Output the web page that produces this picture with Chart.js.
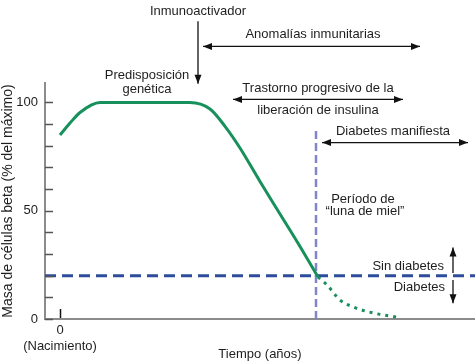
<!DOCTYPE html>
<html>
<head>
<meta charset="utf-8">
<script src="https://cdn.jsdelivr.net/npm/chart.js@4"></script>
<style>
  body { margin: 0; background: #fff; }
  canvas { display: block; }
</style>
</head>
<body>
<canvas id="chart" width="475" height="363"></canvas>
<script>
// time in arbitrary units (0 = birth), beta cell mass in % of maximum
const curveTime = [0, 2, 4, 8, 14, 20, 26, 30, 33, 36, 40, 44, 48, 51.6];
const curveMass = [85, 90.5, 95.4, 100, 100, 100, 100, 97, 89, 79, 63.5, 48.5, 33.5, 19.4];
// residual mass after onset (dotted part)
const tailTime = [51.6, 53.4, 56, 58.6, 62.6, 67.4];
const tailMass = [19.4, 15.7, 8.8, 5.6, 2.8, 0.9];
// diabetes threshold and onset of overt diabetes
const thresholdMass = 20;
const onsetTime = 51.2;
const onsetTop = 88;
const timeRange = [-3, 83];
const massRange = [0, 109];
const yTicks = [0, 50, 100];
const yMinorTicks = [0, 10, 20, 30, 40, 50, 60, 70, 80, 90, 100];
const xTicks = [0];
const xTickLabel = ["0", "(Nacimiento)"];

// annotation texts, placed in data units
const notes = [
  { text: "Inmunoactivador", x: 27.6, y: 142.1 },
  { text: "Anomalías inmunitarias", x: 50.6, y: 131.5 },
  { text: "Predisposición", x: 17.4, y: 112.5 },
  { text: "genética", x: 17.4, y: 106 },
  { text: "Trastorno progresivo de la", x: 51.6, y: 106.5 },
  { text: "liberación de insulina", x: 51.6, y: 96.3 },
  { text: "Diabetes manifiesta", x: 66.6, y: 86.6 },
  { text: "Período de", x: 60.6, y: 55.1 },
  { text: "“luna de miel”", x: 61, y: 49.9 },
  { text: "Sin diabetes", x: 76.8, y: 24.5, align: "right" },
  { text: "Diabetes", x: 77, y: 14.4, align: "right" },
];

// arrows: from / to in data units, heads at "end" or "both"
const arrows = [
  { from: [27.6, 137.5], to: [27.6, 108.6], heads: "end" },
  { from: [28.6, 125.9], to: [72, 125.9], heads: "both" },
  { from: [34.6, 101.4], to: [68.6, 101.4], heads: "both" },
  { from: [52.4, 81.5], to: [81.6, 81.5], heads: "both" },
  { from: [78.6, 21.3], to: [78.6, 33], heads: "end" },
  { from: [78.6, 18], to: [78.6, 7.3], heads: "end" },
];

const FONT = "'Liberation Sans', Arial, sans-serif";
const TEXT = "#1e1e1e";

const toPoints = (xs, ys) => xs.map((x, i) => ({ x: x, y: ys[i] }));

const drawHead = (ctx, x0, y0, x1, y1) => {
  const ang = Math.atan2(y1 - y0, x1 - x0);
  const len = 9, half = 3.5;
  ctx.beginPath();
  ctx.moveTo(x1, y1);
  ctx.lineTo(x1 - len * Math.cos(ang) + half * Math.sin(ang), y1 - len * Math.sin(ang) - half * Math.cos(ang));
  ctx.lineTo(x1 - len * Math.cos(ang) - half * Math.sin(ang), y1 - len * Math.sin(ang) + half * Math.cos(ang));
  ctx.closePath();
  ctx.fill();
};

const extras = {
  id: "extras",
  afterDraw(chart) {
    const { ctx, scales: { x, y } } = chart;
    ctx.save();

    // inward tick marks on the y axis
    ctx.strokeStyle = "#555";
    ctx.lineWidth = 1.5;
    yMinorTicks.forEach((v) => {
      const py = Math.round(y.getPixelForValue(v)) + 0.5;
      ctx.beginPath();
      ctx.moveTo(x.left, py);
      ctx.lineTo(x.left + 8, py);
      ctx.stroke();
    });
    // birth tick on the x axis
    ctx.strokeStyle = "#111";
    xTicks.forEach((v) => {
      const px = Math.round(x.getPixelForValue(v)) + 0.5;
      ctx.beginPath();
      ctx.moveTo(px, y.bottom - 10);
      ctx.lineTo(px, y.bottom - 1);
      ctx.stroke();
    });

    // arrows
    ctx.strokeStyle = "#111";
    ctx.fillStyle = "#111";
    ctx.lineWidth = 1.3;
    arrows.forEach((a) => {
      const x0 = x.getPixelForValue(a.from[0]), y0 = y.getPixelForValue(a.from[1]);
      const x1 = x.getPixelForValue(a.to[0]), y1 = y.getPixelForValue(a.to[1]);
      ctx.beginPath();
      ctx.moveTo(x0, y0);
      ctx.lineTo(x1, y1);
      ctx.stroke();
      drawHead(ctx, x0, y0, x1, y1);
      if (a.heads === "both") drawHead(ctx, x1, y1, x0, y0);
    });

    // annotation texts
    ctx.fillStyle = TEXT;
    ctx.font = "13px " + FONT;
    ctx.textBaseline = "middle";
    notes.forEach((n) => {
      ctx.textAlign = n.align || "center";
      ctx.fillText(n.text, x.getPixelForValue(n.x), y.getPixelForValue(n.y));
    });
    ctx.restore();
  },
};

const renderChart = () => {
  const canvas = document.getElementById("chart");
  new Chart(canvas, {
    type: "line",
    data: {
      datasets: [
        {
          data: toPoints(curveTime, curveMass),
          borderColor: "#17905c",
          borderWidth: 3,
          cubicInterpolationMode: "monotone",
          pointRadius: 0,
        },
        {
          data: toPoints(tailTime, tailMass),
          borderColor: "#17905c",
          borderWidth: 3,
          borderDash: [3, 5],
          cubicInterpolationMode: "monotone",
          pointRadius: 0,
        },
        {
          data: toPoints(timeRange, [thresholdMass, thresholdMass]),
          borderColor: "#2d4c9c",
          borderWidth: 3,
          borderDash: [11, 6],
          pointRadius: 0,
        },
        {
          data: toPoints([onsetTime, onsetTime], [0, onsetTop]),
          borderColor: "#8085cc",
          borderWidth: 2.5,
          borderDash: [8, 4],
          pointRadius: 0,
        },
      ],
    },
    options: {
      responsive: false,
      animation: false,
      devicePixelRatio: 1,
      layout: { padding: { top: 83, left: 0, right: 0, bottom: 0 } },
      plugins: { legend: { display: false }, tooltip: { enabled: false } },
      scales: {
        x: {
          type: "linear",
          min: timeRange[0],
          max: timeRange[1],
          afterBuildTicks: (scale) => {
            scale.ticks = xTicks.map((v) => ({ value: v }));
          },
          afterFit: (scale) => {
            scale.height = 44;
          },
          grid: { drawOnChartArea: false, drawTicks: false },
          border: { color: "#8c8c8c", width: 2 },
          ticks: {
            padding: 4,
            color: TEXT,
            font: { family: FONT, size: 13 },
            maxRotation: 0,
            callback: (v) => (v === 0 ? xTickLabel : ""),
          },
          title: {
            display: true,
            text: "Tiempo (años)",
            color: TEXT,
            font: { family: FONT, size: 13 },
            padding: { top: 0, bottom: 1 },
          },
        },
        y: {
          min: massRange[0],
          max: massRange[1],
          afterBuildTicks: (scale) => {
            scale.ticks = yTicks.map((v) => ({ value: v }));
          },
          afterFit: (scale) => {
            scale.width = 45;
          },
          grid: { drawOnChartArea: false, drawTicks: false },
          border: { color: "#8c8c8c", width: 2 },
          ticks: {
            padding: 7,
            color: TEXT,
            font: { family: FONT, size: 13 },
          },
          title: {
            display: true,
            text: "Masa de células beta (% del máximo)",
            color: TEXT,
            font: { family: FONT, size: 14 },
            padding: { top: 0, bottom: 0 },
          },
        },
      },
    },
    plugins: [extras],
  });
};

window.addEventListener("load", renderChart);
</script>
</body>
</html>
